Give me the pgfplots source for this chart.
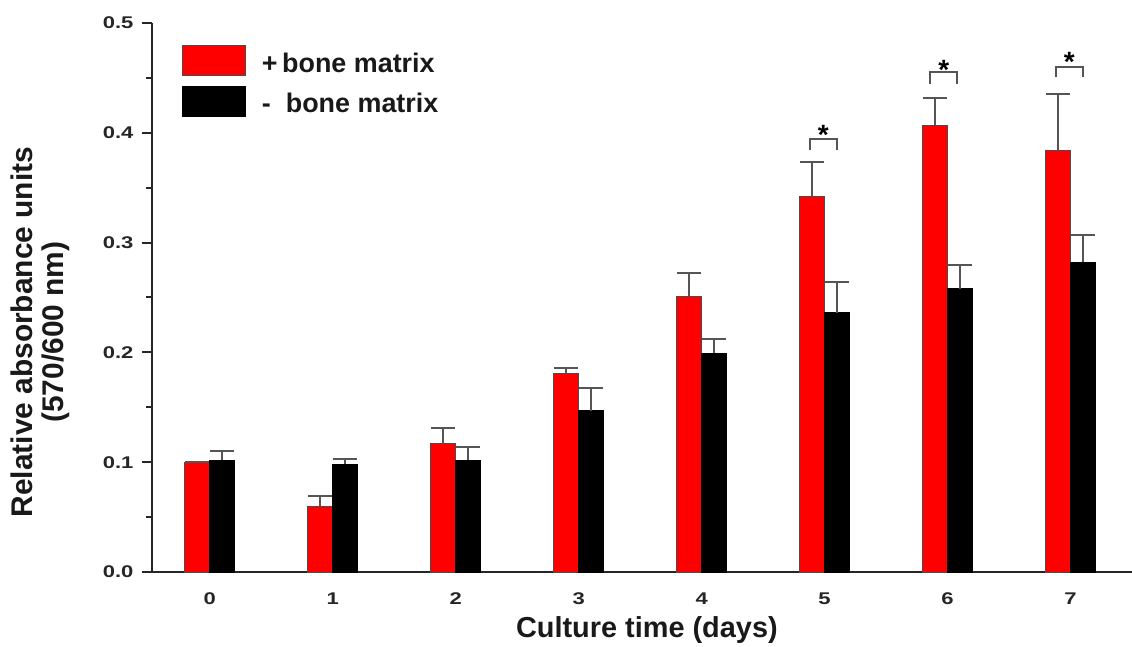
\documentclass[border=0pt]{standalone}
\usepackage{fontspec}
\setmainfont{Liberation Sans}
\newfontfamily\tickfont[FakeStretch=1.3]{Liberation Sans}
\usepackage{pgfplots}
\usepackage{pgfplotstable}
\pgfplotsset{compat=1.18}
\pgfplotsset{biglegend/.style={legend image code/.code={\draw[##1] (0bp,-15bp) rectangle (63bp,15bp);}}}

\pgfplotstableread{
x y e
0 0.100 0.000
1 0.060 0.009
2 0.117 0.014
3 0.181 0.005
4 0.251 0.021
5 0.342 0.031
6 0.407 0.025
7 0.384 0.051
}\redtab
\pgfplotstableread{
x y e
0 0.102 0.008
1 0.098 0.005
2 0.102 0.012
3 0.147 0.021
4 0.199 0.013
5 0.236 0.028
6 0.258 0.022
7 0.282 0.025
}\blacktab

\definecolor{errgray}{RGB}{85,85,85}

\begin{document}
\begin{tikzpicture}
\useasboundingbox (-152bp,-75bp) rectangle (980bp,572bp);
\begin{axis}[
  at={(0,0)}, anchor=south west,
  scale only axis, width=980bp, height=549bp,
  xmin=-0.47, xmax=7.5, ymin=0, ymax=0.5,
  ybar, bar width=25bp,
  axis lines*=left,
  axis line style={line width=2bp, black!85},
  clip=false,
  xtick={0,1,2,3,4,5,6,7},
  xticklabels={0,1,2,3,4,5,6,7},
  xtick style={draw=none},
  ytick={0,0.1,0.2,0.3,0.4,0.5},
  yticklabels={0.0,0.1,0.2,0.3,0.4,0.5},
  minor y tick num=1,
  tick align=outside,
  major tick length=10bp, minor tick length=6bp,
  ytick style={line width=2bp, black!85},
  minor y tick style={line width=2bp, black!85},
  tick label style={font=\fontsize{17}{20}\tickfont\bfseries, black!85},
  xticklabel style={yshift=-7bp},
  yticklabel style={xshift=-5bp},
  xlabel={Culture time (days)},
  ylabel={Relative absorbance units\\(570/600 nm)},
  xlabel style={font=\fontsize{29}{33}\selectfont\bfseries, black!90, at={(axis description cs:0.505,-0.106)}, anchor=center},
  ylabel style={font=\fontsize{30}{32}\selectfont\bfseries, black!90, at={(axis description cs:-0.114,0.437)}, anchor=center, align=center},
  legend style={at={(axis description cs:0.0306,0.96)}, anchor=north west,
    draw=none, fill=none, inner sep=0pt, row sep=10bp, column sep=14bp,
    font=\fontsize{27}{30}\selectfont\bfseries, text=black!90,
    nodes={inner sep=2bp}},
  legend cell align=left,
]
\addplot[ybar, bar shift=-12.5bp, fill=red, draw=black!70, line width=0.8bp,
  biglegend,
  error bars/.cd, y dir=plus, y explicit,
  error bar style={line width=2bp, errgray},
  error mark options={rotate=90, mark size=12bp, line width=2bp, errgray}]
  table[x=x, y=y, y error=e] {\redtab};
\addplot[ybar, bar shift=12.5bp, fill=black, draw=black, line width=0.8bp,
  biglegend,
  error bars/.cd, y dir=plus, y explicit,
  error bar style={line width=2bp, errgray},
  error mark options={rotate=90, mark size=12bp, line width=2bp, errgray}]
  table[x=x, y=y, y error=e] {\blacktab};
\legend{\raisebox{-5bp}{+\,bone matrix}, \raisebox{-5bp}{-\ \ bone matrix}}

\addplot[sharp plot, bar shift=0pt, line width=2bp, errgray, mark=none] coordinates {(4.88,0.384) (4.88,0.394) (5.10,0.394) (5.10,0.384)};
\addplot[sharp plot, bar shift=0pt, line width=2bp, errgray, mark=none] coordinates {(5.86,0.444) (5.86,0.455) (6.08,0.455) (6.08,0.444)};
\addplot[sharp plot, bar shift=0pt, line width=2bp, errgray, mark=none] coordinates {(6.88,0.451) (6.88,0.460) (7.10,0.460) (7.10,0.451)};

\node[anchor=base, inner sep=0pt, font=\fontsize{28}{32}\selectfont\bfseries] at (axis cs:4.99,0.404) {\raisebox{-0.565em}{*}};
\node[anchor=base, inner sep=0pt, font=\fontsize{28}{32}\selectfont\bfseries] at (axis cs:5.97,0.463) {\raisebox{-0.565em}{*}};
\node[anchor=base, inner sep=0pt, font=\fontsize{28}{32}\selectfont\bfseries] at (axis cs:6.99,0.470) {\raisebox{-0.565em}{*}};
\end{axis}
\end{tikzpicture}
\end{document}
